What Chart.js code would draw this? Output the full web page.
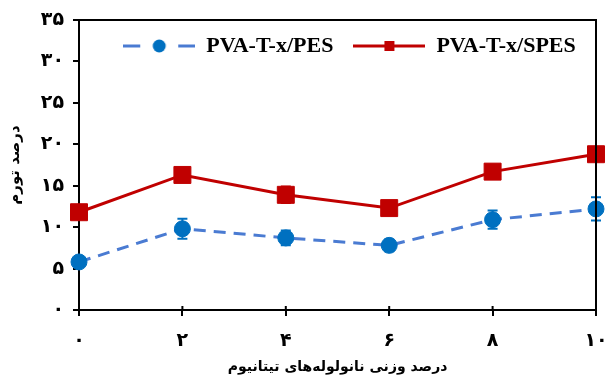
<!DOCTYPE html>
<html>
<head>
<meta charset="utf-8">
<script src="https://cdn.jsdelivr.net/npm/chart.js@4/dist/chart.umd.min.js"></script>
<style>
  html, body { margin: 0; padding: 0; background: #fff; }
  #wrap { width: 605px; height: 381px; }
</style>
</head>
<body>
<div id="wrap"><canvas id="c" width="605" height="381"></canvas></div>
<script>
// Swelling (%) versus titanium nanotube loading (wt%)
const xValues = [0, 2, 4, 6, 8, 10];
const xTickLabels = ['۰', '۲', '۴', '۶', '۸', '۱۰'];
const yTickLabels = ['۰', '۵', '۱۰', '۱۵', '۲۰', '۲۵', '۳۰', '۳۵'];

const pesLabel = 'PVA-T-x/PES';
const pesValues = [5.8, 9.8, 8.7, 7.8, 10.9, 12.2];
const pesErrors = [0.6, 1.2, 0.9, 0.7, 1.1, 1.4];

const spesLabel = 'PVA-T-x/SPES';
const spesValues = [11.8, 16.3, 13.9, 12.3, 16.7, 18.8];
const spesErrors = [0.6, 0.6, 1.0, 0.5, 0.6, 0.8];

const xTitle = 'درصد وزنی نانولوله‌های تیتانیوم';
const yTitle = 'درصد تورم';

const BLUE_LINE = '#4A7BD2';
const BLUE_MARK = '#0070C0';
const RED = '#C00000';

// Legend icons: line with marker
function legendIcon(kind) {
  const c = document.createElement('canvas');
  c.width = 72; c.height = 20;
  const g = c.getContext('2d');
  g.lineWidth = 3;
  if (kind === 'pes') {
    g.strokeStyle = BLUE_LINE;
    g.beginPath(); g.moveTo(0, 10); g.lineTo(17, 10); g.stroke();
    g.beginPath(); g.moveTo(55, 10); g.lineTo(72, 10); g.stroke();
    g.fillStyle = BLUE_MARK;
    g.beginPath(); g.arc(36, 10, 6.5, 0, Math.PI * 2); g.fill();
  } else {
    g.strokeStyle = RED;
    g.beginPath(); g.moveTo(0, 10); g.lineTo(72, 10); g.stroke();
    g.fillStyle = RED;
    g.fillRect(31, 5, 10, 10);
  }
  return c;
}
const icons = [legendIcon('pes'), legendIcon('spes')];

const toPoints = vals => xValues.map((x, i) => ({ x: x, y: vals[i] }));
const errorSets = [pesErrors, spesErrors];

const frameAndErrors = {
  id: 'frameAndErrors',
  afterInit(chart) {
    // lay the in-plot legend out in a single row
    if (chart.legend) chart.legend.isHorizontal = () => true;
  },
  afterLayout(chart) {
    const lg = chart.legend, a = chart.chartArea;
    if (!lg) return;
    lg.left = a.left + 12;
    lg.right = a.right + 12;
    lg.width = a.right - a.left;
    lg.top = a.top - 5;
  },
  beforeDatasetsDraw(chart) {
    const xs = chart.scales.x, ys = chart.scales.y, ctx = chart.ctx;
    chart.data.datasets.forEach((ds, i) => {
      const errs = errorSets[i];
      ctx.save();
      ctx.strokeStyle = ds.pointBackgroundColor;
      ctx.lineWidth = 2;
      ds.data.forEach((p, j) => {
        const px = xs.getPixelForValue(p.x);
        const yHi = ys.getPixelForValue(p.y + errs[j]);
        const yLo = ys.getPixelForValue(p.y - errs[j]);
        ctx.beginPath();
        ctx.moveTo(px, yHi); ctx.lineTo(px, yLo);
        ctx.moveTo(px - 5, yHi); ctx.lineTo(px + 5, yHi);
        ctx.moveTo(px - 5, yLo); ctx.lineTo(px + 5, yLo);
        ctx.stroke();
      });
      ctx.restore();
    });
  },
  afterDraw(chart) {
    const a = chart.chartArea, ctx = chart.ctx, xs = chart.scales.x;
    ctx.save();
    ctx.strokeStyle = '#000';
    ctx.lineWidth = 2;
    ctx.beginPath();
    ctx.moveTo(a.left, a.top); ctx.lineTo(a.right, a.top); ctx.lineTo(a.right, a.bottom);
    // x ticks cross the axis line slightly
    xs.ticks.forEach(t => {
      const px = xs.getPixelForValue(t.value);
      ctx.moveTo(px, a.bottom - 4); ctx.lineTo(px, a.bottom);
    });
    ctx.stroke();
    ctx.restore();
  }
};

const tickFont = { family: 'DejaVu Sans', size: 19, weight: 'bold' };
const xTitleFont = { family: 'DejaVu Sans', size: 14, weight: 'bold' };
const yTitleFont = { family: 'DejaVu Sans', size: 15, weight: 'bold' };

new Chart(document.getElementById('c'), {
  type: 'line',
  data: {
    datasets: [
      {
        label: pesLabel,
        data: toPoints(pesValues),
        borderColor: BLUE_LINE,
        borderWidth: 3,
        borderDash: [12, 8],
        pointStyle: 'circle',
        pointRadius: 8,
        pointBackgroundColor: BLUE_MARK,
        pointBorderColor: BLUE_MARK,
        pointBorderWidth: 1,
        clip: false
      },
      {
        label: spesLabel,
        data: toPoints(spesValues),
        borderColor: RED,
        borderWidth: 3,
        pointStyle: 'rect',
        pointRadius: 12,
        pointBackgroundColor: RED,
        pointBorderColor: RED,
        pointBorderWidth: 1,
        clip: false
      }
    ]
  },
  options: {
    responsive: false,
    animation: false,
    devicePixelRatio: 1,
    layout: { autoPadding: false, padding: { top: 20, right: 9, left: 0, bottom: 0 } },
    plugins: {
      tooltip: { enabled: false },
      legend: {
        position: 'chartArea',
        align: 'center',
        labels: {
          usePointStyle: true,
          pointStyleWidth: 72,
          padding: 20,
          color: '#000',
          font: { family: 'Liberation Serif', size: 22, weight: 'bold' },
          generateLabels(chart) {
            const base = Chart.defaults.plugins.legend.labels.generateLabels(chart);
            return base.map((l, i) => Object.assign(l, { pointStyle: icons[i] }));
          }
        }
      }
    },
    scales: {
      x: {
        type: 'linear',
        min: 0, max: 10,
        afterFit(s) { s.height = 71; s.paddingLeft = 0; s.paddingRight = 0; },
        ticks: {
          stepSize: 2,
          color: '#000',
          font: tickFont,
          padding: 14,
          maxRotation: 0,
          callback: (v, i) => xTickLabels[i]
        },
        grid: { drawOnChartArea: false, drawTicks: true, tickLength: 6, color: '#000', lineWidth: 2 },
        border: { color: '#000', width: 2 },
        title: { display: true, text: xTitle, color: '#000', font: xTitleFont, padding: { top: 0, bottom: 5 } }
      },
      y: {
        min: 0, max: 35,
        afterFit(s) { s.width = 79; s.paddingTop = 0; s.paddingBottom = 0; },
        ticks: {
          stepSize: 5,
          color: '#000',
          font: tickFont,
          padding: 9,
          callback: (v, i) => yTickLabels[i]
        },
        grid: { drawOnChartArea: false, drawTicks: true, tickLength: 6, color: '#000', lineWidth: 2 },
        border: { color: '#000', width: 2 },
        title: { display: true, text: yTitle, color: '#000', font: yTitleFont, padding: { top: 6, bottom: 0 } }
      }
    }
  },
  plugins: [frameAndErrors]
});
</script>
</body>
</html>
